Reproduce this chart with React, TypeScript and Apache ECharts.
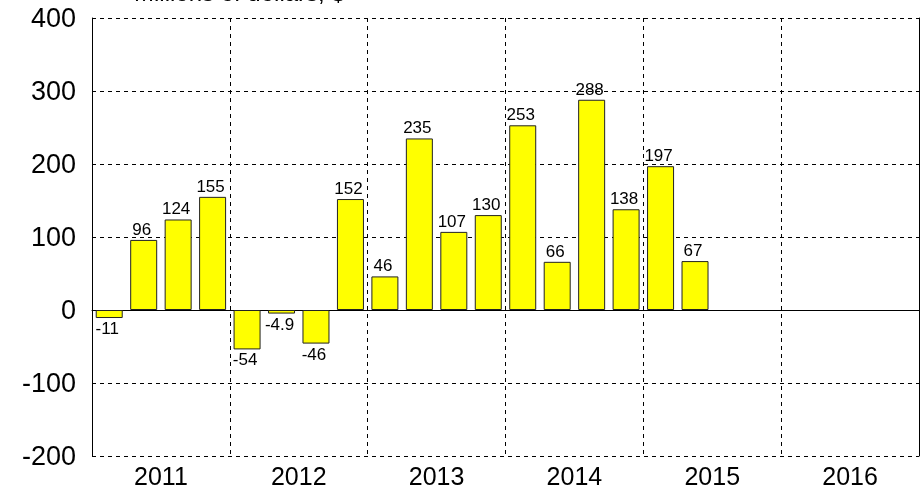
import React, { useEffect, useRef } from "react";
import * as echarts from "echarts";

const years = ["2011", "2012", "2013", "2014", "2015", "2016"];
const quarters = years.flatMap((y) => ["Q1", "Q2", "Q3", "Q4"].map((q) => `${y} ${q}`));
const values: number[] = [-11, 96, 124, 155, -54, -4.9, -46, 152, 46, 235, 107, 130, 253, 66, 288, 138, 197, 67];
const yTicks = { min: -200, max: 400, interval: 100 };
const titleText = "Millions of dollars, $";

export default function App() {
  const ref = useRef<HTMLDivElement>(null);
  useEffect(() => {
    if (!ref.current) return;
    const chart = echarts.init(ref.current, null, { renderer: "svg" });
    const font = "'Liberation Sans', Arial, sans-serif";
    const dash = { type: [4, 4] as any, color: "#000", width: 1 };
    const data = quarters.map((q, i) =>
      i < values.length
        ? {
            value: values[i],
            label: { position: values[i] < 0 ? "bottom" : "top" },
          }
        : "-"
    );
    chart.setOption({
      animation: false,
      textStyle: { fontFamily: font },
      graphic: [
        {
          type: "text",
          left: 134,
          top: -20,
          z: 100,
          style: {
            text: titleText,
            fontSize: 24,
            fontFamily: font,
            fill: "#000",
          },
        },
      ],
      grid: { left: 92, right: 5, top: 18, bottom: 36 },
      xAxis: [
        {
          type: "category",
          data: years,
          position: "bottom",
          axisLine: { show: false, onZero: false },
          axisTick: { show: false },
          axisLabel: { fontSize: 25, color: "#000", margin: 7, fontFamily: font },
          splitLine: { show: true, lineStyle: dash },
        },
        {
          type: "category",
          data: quarters,
          position: "bottom",
          axisLine: { show: true, onZero: true, lineStyle: { color: "#000", width: 1 } },
          axisTick: { show: false },
          axisLabel: { show: false },
          splitLine: { show: false },
        },
      ],
      yAxis: [
        {
          type: "value",
          min: yTicks.min,
          max: yTicks.max,
          interval: yTicks.interval,
          axisLine: { show: true, lineStyle: { color: "#000", width: 1 } },
          axisTick: { show: false },
          axisLabel: { fontSize: 27, color: "#000", margin: 16, fontFamily: font },
          splitLine: { show: true, lineStyle: dash },
        },
        {
          type: "value",
          position: "right",
          min: yTicks.min,
          max: yTicks.max,
          interval: yTicks.interval,
          axisLine: { show: true, lineStyle: { color: "#000", width: 1 } },
          axisTick: { show: false },
          axisLabel: { show: false },
          splitLine: { show: false },
        },
      ],
      series: [
        {
          type: "bar",
          xAxisIndex: 1,
          yAxisIndex: 0,
          data,
          barWidth: 27,
          itemStyle: { color: "#ffff00", borderColor: "#222", borderWidth: 1 },
          label: {
            show: true,
            fontSize: 17,
            color: "#000",
            fontFamily: font,
            distance: 2,
            offset: [-2, 0],
            formatter: (p: any) => String(p.value),
          },
        },
      ],
    });
    return () => chart.dispose();
  }, []);
  return (
    <div style={{ position: "fixed", left: 0, top: 0, width: 924, height: 492 }}>
      <div ref={ref} style={{ width: 924, height: 492 }} />
    </div>
  );
}
